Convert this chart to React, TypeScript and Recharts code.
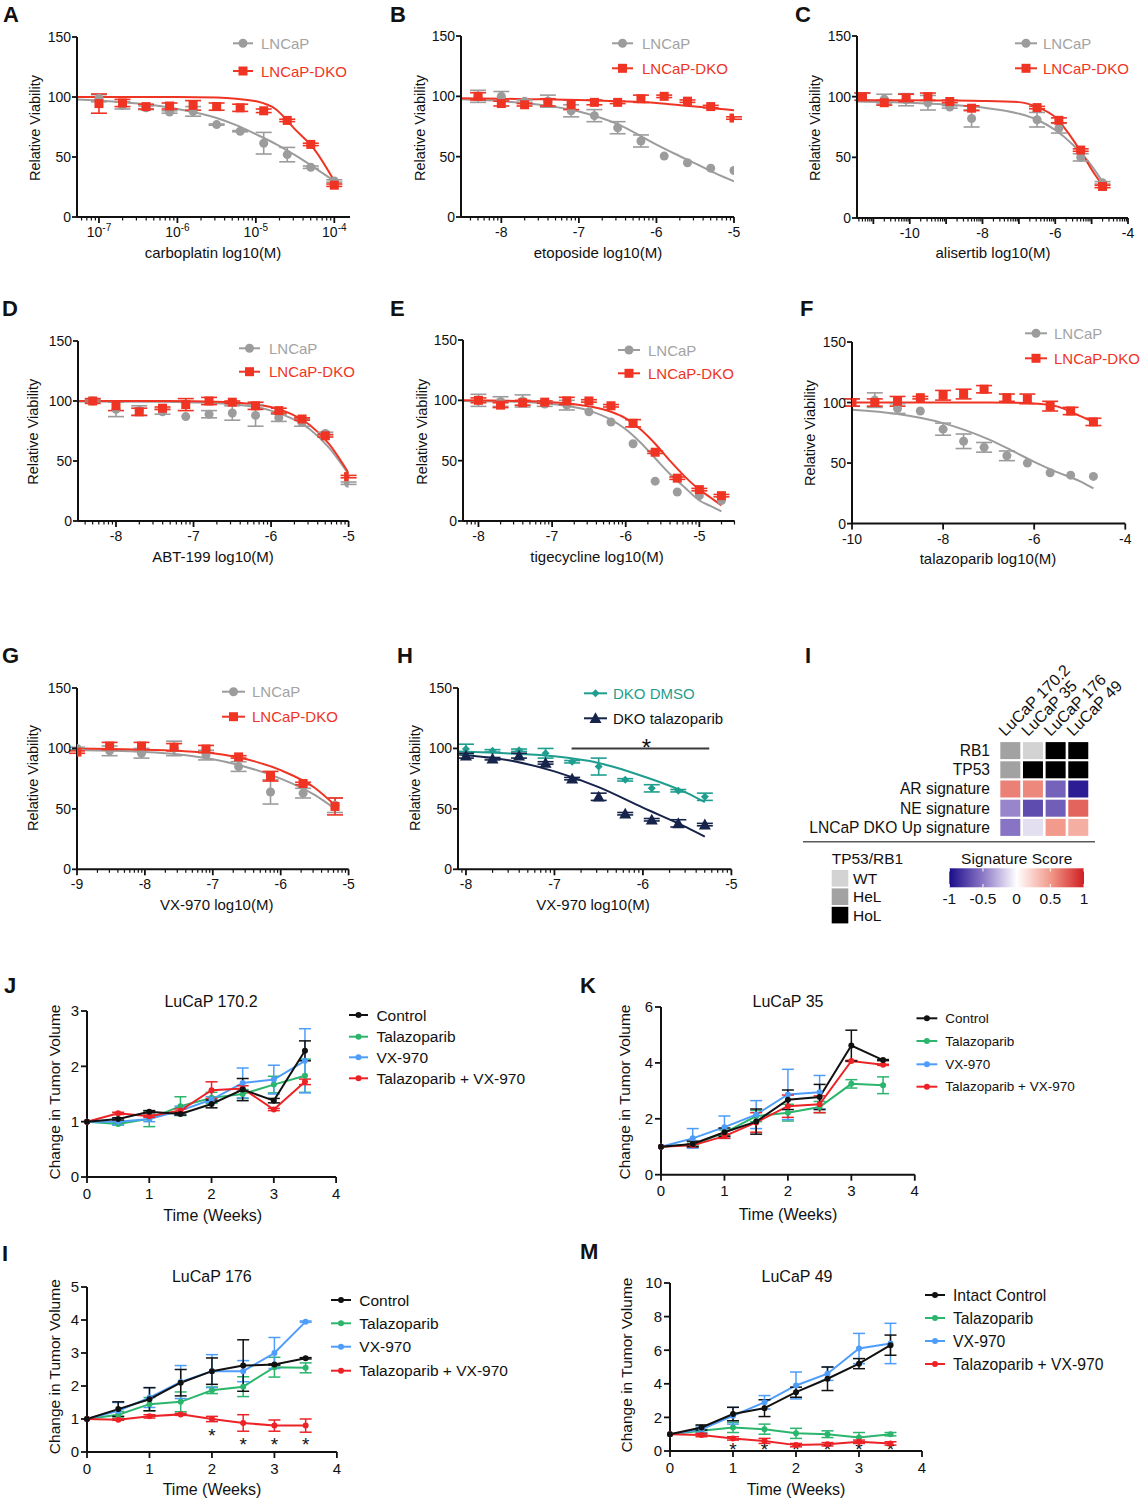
import React from "react"
import { ComposedChart, Line, Scatter, XAxis, YAxis, ErrorBar, ReferenceLine } from "recharts"

const FONT = "Arial, 'Liberation Sans', Helvetica, sans-serif"
const BLACK = "#111111"
const GRAY = "#9c9c9c"
const GRAY_TXT = "#a3a3a3"
const RED = "#ef3424"
const TEAL = "#1f9e8f"
const NAVY = "#16234a"
const GREEN = "#2bb56d"
const BLUE = "#4f9dfa"
const TRED = "#ec2227"

// ---------- dose response data (log10 M) ----------
const aDose = [-7, -6.7, -6.4, -6.1, -5.8, -5.5, -5.2, -4.9, -4.6, -4.3, -4.0]
const aLncap = [99, 93, 91, 87.5, 88, 77, 71.5, 61.5, 52, 41.5, 30]
const aLncapErr = [3, 3, 1.5, 1, 4, 0.5, 0.5, 9, 6, 1, 1]
const aDko = [94.5, 95, 92, 92.5, 93, 92, 91, 88.5, 80.5, 60.5, 26.5]
const aDkoErr = [8, 3, 2, 2.5, 4, 3, 3, 1.5, 1, 1, 1]
const aFitX = [-7.28, -7, -6.5, -6, -5.5, -5.25, -5, -4.75, -4.5, -4.25, -4.0]
const aLncapFit = [98, 97, 94.5, 90, 82.5, 76.5, 69, 61, 51.5, 41, 30]
const aDkoFit = [100, 100, 100, 100, 99.5, 98.5, 96.5, 90, 73, 56, 30]

const bDose = [-8.3, -8.0, -7.7, -7.4, -7.1, -6.8, -6.5, -6.2, -5.9, -5.6, -5.3, -5.0]
const bLncap = [100, 100, 96, 96, 88, 84, 74, 63, 50.5, 45, 40.5, 38.5]
const bLncapErr = [5, 4, 1, 5, 5, 5, 5, 5, 0, 0, 0, 0]
const bDko = [100, 94, 93, 95, 93, 95, 95, 98, 100, 96, 91.5, 82]
const bDkoErr = [3, 2, 1, 3, 4, 2, 1, 3, 1, 1, 1, 1]
const bFitX = [-8.52, -8, -7.5, -7, -6.5, -6, -5.75, -5.5, -5.25, -5.0]
const bLncapFit = [97.5, 96, 93, 87.5, 77, 60, 52, 44.5, 36.5, 29.5]
const bDkoFit = [98.5, 98, 97.5, 97, 96, 94.5, 93, 91.5, 90, 88.5]

const cDose = [-11.3, -10.7, -10.1, -9.5, -8.9, -8.3, -6.5, -5.9, -5.3, -4.7]
const cLncap = [100, 98, 97.5, 95, 91.5, 82, 81, 74, 50, 29]
const cLncapErr = [3, 4, 5, 6, 1, 7, 6, 4, 3, 1]
const cDko = [100, 95, 99, 100, 96, 90.5, 91, 80.5, 56, 26]
const cDkoErr = [3, 2, 3, 3, 1, 2, 1, 2, 1, 1]
const cFitX = [-11.45, -10, -9, -8, -7, -6.5, -6, -5.5, -5.2, -5, -4.7]
const cLncapFit = [96, 95, 93.5, 91, 86, 81, 72.5, 60, 50.5, 43, 30]
const cDkoFit = [97, 97, 96.8, 96.5, 95.5, 91.5, 83, 64, 50, 40, 27]

const dDose = [-8.3, -8.0, -7.7, -7.4, -7.1, -6.8, -6.5, -6.2, -5.9, -5.6, -5.3, -5.0]
const dLncap = [100, 93, 92, 91, 87, 89, 90, 88, 86, 82, 73, 31.5]
const dLncapErr = [1, 6, 4, 2, 0, 3, 6, 9, 3, 3, 1, 1]
const dDko = [100, 96, 91, 94, 97, 100, 99, 96, 92, 85, 71, 37]
const dDkoErr = [2, 4, 3, 1, 5, 3, 1, 3, 2, 1, 1, 1]
const dFitX = [-8.5, -7.5, -7, -6.5, -6.25, -6, -5.75, -5.5, -5.25, -5.0]
const dLncapFit = [99.5, 99.3, 98.8, 97.3, 95.5, 92, 86, 76.5, 61, 39]
const dDkoFit = [100, 100, 99.8, 99, 97.5, 95, 89.5, 80, 64, 40]

const eDose = [-8.0, -7.7, -7.4, -7.1, -6.8, -6.5, -6.2, -5.9, -5.6, -5.3, -5.0, -4.7]
const eLncap = [100, 99, 99.5, 97, 96, 90.5, 82, 64, 33, 24, 21, 17]
const eLncapErr = [5, 4, 5, 2, 4, 0, 0, 0, 0, 0, 0, 0]
const eDko = [100, 96, 98, 98.5, 99.5, 99.5, 95.5, 81, 57, 35.5, 26, 21]
const eDkoErr = [2, 2, 2, 1, 3, 1, 1, 3, 1, 1, 1, 1]
const eFitX = [-8.2, -7.5, -7, -6.5, -6.2, -6, -5.8, -5.6, -5.4, -5.2, -5, -4.85, -4.7]
const eLncapFit = [99.5, 98.8, 97, 91.5, 84, 76, 65, 52, 39, 28, 17, 12.5, 8]
const eDkoFit = [100, 99.5, 98.5, 95, 90.5, 85, 76, 64, 50, 37, 26, 19.5, 13]

const fDose = [-10, -9.5, -9.0, -8.5, -8.0, -7.55, -7.1, -6.6, -6.15, -5.65, -5.2, -4.7]
const fLncap = [100, 102, 95, 93, 78, 68, 63, 56, 50, 42, 40, 39]
const fLncapErr = [3, 6, 4, 0, 5, 6, 4, 4, 0, 0, 0, 0]
const fDko = [100, 100, 101, 104, 106, 107, 111, 104, 103, 97, 93, 84]
const fDkoErr = [3, 3, 4, 1, 4, 4, 3, 3, 4, 4, 3, 3]
const fFitX = [-10, -9, -8, -7.5, -7, -6.5, -6, -5.5, -5, -4.7]
const fLncapFit = [94, 90.5, 83, 77, 69.5, 60.5, 51, 42.5, 35, 29]
const fDkoFit = [100, 100, 100, 100, 100, 99.8, 99.3, 96.8, 89, 84]

const gDose = [-9, -8.52, -8.05, -7.57, -7.1, -6.62, -6.15, -5.67, -5.2]
const gLncap = [100, 98, 96, 100, 94.5, 85, 64, 63, 53]
const gLncapErr = [1, 4, 4, 6, 4, 4, 10, 4, 6]
const gDko = [97, 102, 102, 101, 99.5, 93, 77, 71, 52]
const gDkoErr = [1, 3, 3, 3, 3, 1, 4, 1, 7]
const gFitX = [-9, -8.5, -8, -7.5, -7, -6.5, -6, -5.5, -5.2]
const gLncapFit = [98.5, 98, 97, 95, 91, 84.5, 75, 61.5, 50]
const gDkoFit = [100, 99.5, 99, 98, 96, 91, 82, 67.5, 53]

const hDose = [-8, -7.7, -7.4, -7.1, -6.8, -6.5, -6.2, -5.9, -5.6, -5.3]
const hDmso = [99.5, 98, 98.5, 96, 89, 85, 74, 67, 65, 60]
const hDmsoErr = [4, 1, 1, 4, 1, 7, 1, 3, 1, 3]
const hTala = [94, 91.5, 94, 88, 75, 60, 46, 41, 38, 37]
const hTalaErr = [2, 1, 2, 1, 1, 3, 1, 1, 3, 1]
const hFitX = [-8.09, -7.5, -7, -6.5, -6, -5.5, -5.3]
const hDmsoFit = [97.5, 95.8, 93.5, 88, 77, 63, 55.5]
const hTalaFit = [95, 90, 81, 68, 51, 34.5, 27]
const hSigStar = [{ x: -5.96, y: 105 }]

// ---------- heatmap ----------
const heatSamples = ["LuCaP 170.2", "LuCaP 35", "LuCaP 176", "LuCaP 49"]
const heatRows = ["RB1", "TP53", "AR signature", "NE signature", "LNCaP DKO Up signature"]
const rb1Status = ["HeL", "WT", "HoL", "HoL"]
const tp53Status = ["HeL", "HoL", "HoL", "HoL"]
const arScore = [0.6, 0.57, -0.6, -0.92]
const neScore = [-0.45, -0.7, -0.62, 0.72]
const dkoUpScore = [-0.52, -0.12, 0.5, 0.4]
const statusLabels = ["WT", "HeL", "HoL"]
const STATUS_COLORS: Record<string, string> = { WT: "#d3d3d3", HeL: "#a2a2a2", HoL: "#000000" }
const scoreTicks = [-1, -0.5, 0, 0.5, 1]
const SCORE_STOPS: [number, string][] = [
  [-1, "#1a0c8a"],
  [-0.5, "#8c78c6"],
  [0, "#ffffff"],
  [0.5, "#f29a8b"],
  [1, "#d01f22"],
]

// ---------- tumour volume ----------
const weeks = [0, 0.5, 1, 1.5, 2, 2.5, 3, 3.5]
const jControl = [1, 1.05, 1.18, 1.14, 1.32, 1.58, 1.38, 2.28]
const jControlErr = [0, 0.02, 0.02, 0.02, 0.07, 0.2, 0.04, 0.18]
const jTala = [1, 0.96, 1.05, 1.28, 1.43, 1.5, 1.67, 1.83]
const jTalaErr = [0, 0.02, 0.14, 0.17, 0.1, 0.08, 0.15, 0.3]
const jVx = [1, 1.0, 1.05, 1.2, 1.4, 1.7, 1.76, 2.1]
const jVxErr = [0, 0.06, 0.05, 0.08, 0.05, 0.27, 0.26, 0.58]
const jCombo = [1, 1.15, 1.1, 1.2, 1.57, 1.6, 1.22, 1.72]
const jComboErr = [0, 0.02, 0.02, 0.03, 0.15, 0.05, 0.02, 0.05]

const kControl = [1, 1.1, 1.52, 1.9, 2.68, 2.78, 4.62, 4.1]
const kControlErr = [0, 0.1, 0.15, 0.45, 0.35, 0.45, 0.55, 0.02]
const kTala = [1, 1.08, 1.5, 2.1, 2.22, 2.42, 3.25, 3.2]
const kTalaErr = [0, 0.05, 0.1, 0.2, 0.3, 0.2, 0.15, 0.3]
const kVx = [1, 1.3, 1.7, 2.15, 2.87, 2.95]
const kVxErr = [0, 0.35, 0.4, 0.5, 0.9, 0.6]
const kCombo = [1, 1.05, 1.38, 1.87, 2.45, 2.52, 4.07, 3.93]
const kComboErr = [0, 0.05, 0.08, 0.35, 0.4, 0.3, 0.02, 0.02]

const lControl = [1, 1.3, 1.6, 2.1, 2.45, 2.62, 2.65, 2.84]
const lControlErr = [0, 0.22, 0.35, 0.4, 0.4, 0.78, 0.02, 0.02]
const lTala = [1, 1.13, 1.45, 1.52, 1.87, 1.98, 2.57, 2.55]
const lTalaErr = [0, 0.1, 0.2, 0.3, 0.1, 0.3, 0.3, 0.15]
const lVx = [1, 1.25, 1.65, 2.12, 2.45, 2.45, 3.0, 3.95]
const lVxErr = [0, 0.25, 0.3, 0.5, 0.5, 0.32, 0.47, 0.02]
const lCombo = [1, 0.98, 1.08, 1.14, 1.0, 0.88, 0.8, 0.8]
const lComboErr = [0, 0.02, 0.05, 0.03, 0.08, 0.25, 0.17, 0.2]
const lStarWeeks = [2, 2.5, 3, 3.5]
const lStarY = [0.64, 0.35, 0.35, 0.35]

const mControl = [1, 1.4, 2.2, 2.55, 3.5, 4.3, 5.2, 6.3]
const mControlErr = [0, 0.15, 0.4, 0.5, 0.3, 0.7, 0.3, 0.6]
const mTala = [1, 1.2, 1.4, 1.3, 1.05, 1.0, 0.8, 1.0]
const mTalaErr = [0, 0.2, 0.3, 0.3, 0.3, 0.2, 0.3, 0.1]
const mVx = [1, 1.3, 2.1, 2.9, 3.9, 4.6, 6.1, 6.4]
const mVxErr = [0, 0.2, 0.5, 0.4, 0.8, 0.4, 0.9, 1.2]
const mCombo = [1, 0.95, 0.75, 0.6, 0.35, 0.4, 0.55, 0.45]
const mComboErr = [0, 0.1, 0.1, 0.15, 0.1, 0.1, 0.1, 0.1]
const mStarWeeks = [1, 1.5, 2, 2.5, 3, 3.5]
const mStarY = [0.35, 0.35, 0.35, 0.35, 0.35, 0.35]

const pts = (xs: number[], ys: number[], es?: number[]) =>
  ys.map((y, i) => ({ x: xs[i], y, e: es ? es[i] : 0 }))

const logMinors = (lo: number, hi: number) => {
  const out: number[] = []
  for (let n = Math.floor(lo); n < hi; n++) {
    for (let k = 2; k <= 9; k++) {
      const v = n + Math.log10(k)
      if (v > lo && v < hi) out.push(v)
    }
  }
  return out
}

function scoreColor(v: number) {
  for (let i = 0; i < SCORE_STOPS.length - 1; i++) {
    const [a, ca] = SCORE_STOPS[i]
    const [b, cb] = SCORE_STOPS[i + 1]
    if (v >= a && v <= b) {
      const t = (v - a) / (b - a)
      const p = (c: string, o: number) => parseInt(c.slice(o, o + 2), 16)
      const mix = (o: number) => Math.round(p(ca, o) + (p(cb, o) - p(ca, o)) * t)
      return `rgb(${mix(1)},${mix(3)},${mix(5)})`
    }
  }
  return "#ffffff"
}

// marker shapes
const circleShape = (color: string, r = 4.5) => (p: any) => <circle cx={p.cx} cy={p.cy} r={r} fill={color} />
const squareShape = (color: string, s = 9) => (p: any) => (
  <rect x={p.cx - s / 2} y={p.cy - s / 2} width={s} height={s} fill={color} />
)
const diamondShape = (color: string, s = 4) => (p: any) => (
  <path d={`M${p.cx},${p.cy - s}L${p.cx + s},${p.cy}L${p.cx},${p.cy + s}L${p.cx - s},${p.cy}Z`} fill={color} />
)
const triShape = (color: string, s = 6) => (p: any) => (
  <path d={`M${p.cx},${p.cy - s}L${p.cx + s},${p.cy + s * 0.8}L${p.cx - s},${p.cy + s * 0.8}Z`} fill={color} />
)
const starShape = (size: number) => (p: any) => (
  <text x={p.cx} y={p.cy + size * 0.58} textAnchor="middle" fontSize={size} fontFamily={FONT} fill={BLACK}>
    *
  </text>
)

function LogTick(props: any) {
  const { x, y, payload, majors, labels, sup } = props
  const v = payload.value
  const mi = majors.findIndex((m: number) => Math.abs(m - v) < 1e-9)
  const major = mi >= 0
  const lab = major ? labels[mi] : ""
  return (
    <g>
      <line x1={x} x2={x} y1={y} y2={y + (major ? 6 : 3.5)} stroke={BLACK} strokeWidth={major ? 1.8 : 1.2} />
      {lab !== "" &&
        (sup ? (
          <text x={x} y={y + 20} textAnchor="middle" fontSize={14} fontFamily={FONT} fill={BLACK}>
            <tspan>10</tspan>
            <tspan dy={-6} fontSize={10}>
              {lab}
            </tspan>
          </text>
        ) : (
          <text x={x} y={y + 20} textAnchor="middle" fontSize={14} fontFamily={FONT} fill={BLACK}>
            {lab}
          </text>
        ))}
    </g>
  )
}

interface DoseSeries {
  data: { x: number; y: number; e: number }[]
  fit: { x: number; y: number; e: number }[]
  color: string
  shape: any
}

function DosePanel({ x0, x1, y0, y1, domain, majors, labels, minors, sup, series, children }: any) {
  const L = 50
  const R = 14
  const T = 12
  const B = 34
  const ticks = [...majors, ...minors].sort((a: number, b: number) => a - b)
  return (
    <div style={{ position: "absolute", left: x0 - L, top: y0 - T }}>
      <ComposedChart
        width={x1 - x0 + L + R}
        height={y1 - y0 + T + B}
        margin={{ top: T, right: R, bottom: 0, left: 0 }}
      >
        <XAxis
          type="number"
          dataKey="x"
          domain={domain}
          allowDataOverflow
          ticks={ticks}
          interval={0}
          height={B}
          tickSize={0}
          tickMargin={0}
          tickLine={false}
          axisLine={{ stroke: BLACK, strokeWidth: 2 }}
          tick={(p: any) => <LogTick {...p} majors={majors} labels={labels} sup={sup} />}
        />
        <YAxis
          type="number"
          dataKey="y"
          domain={[0, 150]}
          allowDataOverflow
          ticks={[0, 50, 100, 150]}
          interval={0}
          width={L}
          tickSize={5}
          tickMargin={1}
          axisLine={{ stroke: BLACK, strokeWidth: 2 }}
          tickLine={{ stroke: BLACK, strokeWidth: 1.8 }}
          tick={{ fill: BLACK, fontSize: 14, fontFamily: FONT }}
        />
        {series.map((s: DoseSeries, i: number) => (
          <Line
            key={"fit" + i}
            data={s.fit}
            dataKey="y"
            type="monotone"
            stroke={s.color}
            strokeWidth={2}
            dot={false}
            isAnimationActive={false}
          />
        ))}
        {series.map((s: DoseSeries, i: number) => (
          <Scatter key={"pts" + i} data={s.data} dataKey="y" shape={s.shape} isAnimationActive={false}>
            <ErrorBar dataKey="e" direction="y" width={8} stroke={s.color} strokeWidth={1.6} />
          </Scatter>
        ))}
        {children}
      </ComposedChart>
    </div>
  )
}

function TimePanel({ x0, x1, y0, y1, yMax, yTicks, groups, stars }: any) {
  const L = 50
  const R = 14
  const T = 12
  const B = 36
  return (
    <div style={{ position: "absolute", left: x0 - L, top: y0 - T }}>
      <ComposedChart
        width={x1 - x0 + L + R}
        height={y1 - y0 + T + B}
        margin={{ top: T, right: R, bottom: 0, left: 0 }}
      >
        <XAxis
          type="number"
          dataKey="x"
          domain={[0, 4]}
          ticks={[0, 1, 2, 3, 4]}
          interval={0}
          height={B}
          tickSize={6}
          tickMargin={5}
          axisLine={{ stroke: BLACK, strokeWidth: 2 }}
          tickLine={{ stroke: BLACK, strokeWidth: 1.8 }}
          tick={{ fill: BLACK, fontSize: 15, fontFamily: FONT }}
        />
        <YAxis
          type="number"
          dataKey="y"
          domain={[0, yMax]}
          allowDataOverflow
          ticks={yTicks}
          interval={0}
          width={L}
          tickSize={6}
          tickMargin={2}
          axisLine={{ stroke: BLACK, strokeWidth: 2 }}
          tickLine={{ stroke: BLACK, strokeWidth: 1.8 }}
          tick={{ fill: BLACK, fontSize: 15, fontFamily: FONT }}
        />
        {groups.map((g: any, i: number) => (
          <Line
            key={"g" + i}
            data={g.data}
            dataKey="y"
            stroke={g.color}
            strokeWidth={2}
            dot={{ r: 3, fill: g.color, stroke: g.color, strokeWidth: 0 }}
            isAnimationActive={false}
          >
            <ErrorBar dataKey="e" direction="y" width={6} stroke={g.color} strokeWidth={1.5} />
          </Line>
        ))}
        {stars && <Scatter data={stars} dataKey="y" shape={starShape(19)} isAnimationActive={false} />}
      </ComposedChart>
    </div>
  )
}

const heatCells = [
  ...rb1Status.map((s, i) => ({ x: i, y: 0, fill: STATUS_COLORS[s] })),
  ...tp53Status.map((s, i) => ({ x: i, y: 1, fill: STATUS_COLORS[s] })),
  ...arScore.map((v, i) => ({ x: i, y: 2, fill: scoreColor(v) })),
  ...neScore.map((v, i) => ({ x: i, y: 3, fill: scoreColor(v) })),
  ...dkoUpScore.map((v, i) => ({ x: i, y: 4, fill: scoreColor(v) })),
]

function Heatmap() {
  const x0 = 999.4
  const x1 = 1090
  const y0 = 740.7
  const y1 = 836.7
  const L = 200
  const R = 40
  const H = 100
  return (
    <div style={{ position: "absolute", left: x0 - L, top: y0 - H }}>
      <ComposedChart width={x1 - x0 + L + R} height={y1 - y0 + H + 4} margin={{ top: 0, right: R, bottom: 4, left: 0 }}>
        <XAxis
          type="number"
          dataKey="x"
          orientation="top"
          domain={[-0.5, 3.5]}
          ticks={[0, 1, 2, 3]}
          interval={0}
          height={H}
          axisLine={false}
          tickLine={false}
          tickSize={0}
          tickMargin={0}
          tick={(p: any) => (
            <text
              transform={`translate(${p.x - 5},${p.y - 4}) rotate(-45)`}
              fontSize={16}
              fontFamily={FONT}
              fill={BLACK}
            >
              {heatSamples[p.payload.value]}
            </text>
          )}
        />
        <YAxis
          type="number"
          dataKey="y"
          domain={[-0.5, 4.5]}
          reversed
          ticks={[0, 1, 2, 3, 4]}
          interval={0}
          width={L}
          axisLine={false}
          tickLine={false}
          tickSize={0}
          tickMargin={9}
          tick={(p: any) => (
            <text x={p.x} y={p.y} textAnchor="end" dominantBaseline="central" fontSize={15.6} fontFamily={FONT} fill={BLACK}>
              {heatRows[p.payload.value]}
            </text>
          )}
        />
        <Scatter
          data={heatCells}
          dataKey="y"
          isAnimationActive={false}
          shape={(p: any) => <rect x={p.cx - 10} y={p.cy - 8.5} width={20} height={17} fill={p.payload.fill} />}
        />
      </ComposedChart>
    </div>
  )
}

// ---------- overlay text helpers ----------
function T({ x, y, children, size = 14, color = BLACK, anchor = "middle", rotate = 0, weight = 400 }: any) {
  return (
    <text
      x={x}
      y={y}
      textAnchor={anchor}
      dominantBaseline="central"
      fontSize={size}
      fill={color}
      fontWeight={weight}
      fontFamily={FONT}
      transform={rotate ? `rotate(${rotate},${x},${y})` : undefined}
    >
      {children}
    </text>
  )
}

function LegendRow({ lx1, lx2, tx, y, color, marker, label, textColor, size = 15 }: any) {
  const mx = (lx1 + lx2) / 2
  return (
    <g>
      <line x1={lx1} x2={lx2} y1={y} y2={y} stroke={color} strokeWidth={2} />
      {marker({ cx: mx, cy: y })}
      <T x={tx} y={y} anchor="start" size={size} color={textColor}>
        {label}
      </T>
    </g>
  )
}

const doseLegends = [
  { lx1: 233, lx2: 253, tx: 261, y1: 43.3, y2: 71 },
  { lx1: 612, lx2: 633, tx: 642, y1: 43.3, y2: 68.3 },
  { lx1: 1015, lx2: 1037, tx: 1043, y1: 43.3, y2: 68.3 },
  { lx1: 239, lx2: 260, tx: 269, y1: 348.3, y2: 371.7 },
  { lx1: 618, lx2: 640, tx: 648, y1: 350, y2: 373.3 },
  { lx1: 1025, lx2: 1047, tx: 1054, y1: 333.3, y2: 358.3 },
  { lx1: 222, lx2: 245, tx: 252, y1: 691.7, y2: 716.7 },
]

const doseTitles = [
  { yx: 35, yy: 128, xx: 213, xy: 252.5, label: "carboplatin log10(M)" },
  { yx: 420, yy: 128, xx: 598, xy: 252.5, label: "etoposide log10(M)" },
  { yx: 815, yy: 128, xx: 993, xy: 252.5, label: "alisertib log10(M)" },
  { yx: 33.3, yy: 431.7, xx: 213, xy: 556.7, label: "ABT-199 log10(M)" },
  { yx: 421.7, yy: 431.7, xx: 597, xy: 556.7, label: "tigecycline log10(M)" },
  { yx: 810, yy: 433, xx: 988, xy: 558, label: "talazoparib log10(M)" },
  { yx: 33.3, yy: 778, xx: 216.7, xy: 904, label: "VX-970 log10(M)" },
  { yx: 415, yy: 778, xx: 593, xy: 904, label: "VX-970 log10(M)" },
]

const panelLetters = [
  { t: "A", x: 3, y: 14 },
  { t: "B", x: 390, y: 14 },
  { t: "C", x: 795, y: 14 },
  { t: "D", x: 2, y: 308 },
  { t: "E", x: 390, y: 308 },
  { t: "F", x: 800, y: 308 },
  { t: "G", x: 2, y: 655 },
  { t: "H", x: 397, y: 655 },
  { t: "I", x: 805, y: 655 },
  { t: "J", x: 4, y: 985 },
  { t: "K", x: 580, y: 985 },
  { t: "I", x: 2, y: 1253 },
  { t: "M", x: 580, y: 1251 },
]

const timeGroupsLabels = ["Control", "Talazoparib", "VX-970", "Talazoparib + VX-970"]
const timeColors = [BLACK, GREEN, BLUE, TRED]

const timeLayouts = [
  { lx1: 349, lx2: 368, tx: 376.4, rows: [1015, 1036.7, 1057.3, 1078.3], size: 15.5, title: "LuCaP 170.2", tx0: 211, ty0: 1001, yx: 54.5, yy: 1092, xx: 212.7, xy: 1215, first: "Control" },
  { lx1: 916.5, lx2: 937.3, tx: 945.3, rows: [1018.3, 1041, 1064.3, 1086.7], size: 13.5, title: "LuCaP 35", tx0: 788, ty0: 1001, yx: 624.5, yy: 1092, xx: 788, xy: 1214, first: "Control" },
  { lx1: 331, lx2: 351, tx: 359.3, rows: [1300, 1323.3, 1346.7, 1370.7], size: 15.5, title: "LuCaP 176", tx0: 211.8, ty0: 1276, yx: 54.5, yy: 1366.7, xx: 212, xy: 1489, first: "Control" },
  { lx1: 925, lx2: 945, tx: 953, rows: [1295, 1318, 1341, 1364], size: 15.7, title: "LuCaP 49", tx0: 797, ty0: 1276, yx: 626, yy: 1365, xx: 796, xy: 1489, first: "Intact Control" },
]

function Overlay() {
  const gx0 = 949.3
  const gw = 134.7
  return (
    <svg
      width={1140}
      height={1500}
      style={{ position: "absolute", left: 0, top: 0, pointerEvents: "none" }}
    >
      <defs>
        <linearGradient id="sigScore" x1="0" x2="1" y1="0" y2="0">
          {SCORE_STOPS.map(([v, c]) => (
            <stop key={v} offset={`${((v + 1) / 2) * 100}%`} stopColor={c} />
          ))}
        </linearGradient>
      </defs>

      {panelLetters.map((p, i) => (
        <T key={i} x={p.x} y={p.y} anchor="start" size={22} weight={700}>
          {p.t}
        </T>
      ))}

      {doseTitles.map((d, i) => (
        <g key={i}>
          <T x={d.yx} y={d.yy} rotate={-90} size={14.5}>
            Relative Viability
          </T>
          <T x={d.xx} y={d.xy} size={15}>
            {d.label}
          </T>
        </g>
      ))}

      {doseLegends.map((l, i) => (
        <g key={i}>
          <LegendRow lx1={l.lx1} lx2={l.lx2} tx={l.tx} y={l.y1} color={GRAY} marker={circleShape(GRAY)} label="LNCaP" textColor={GRAY_TXT} />
          <LegendRow lx1={l.lx1} lx2={l.lx2} tx={l.tx} y={l.y2} color={RED} marker={squareShape(RED)} label="LNCaP-DKO" textColor={RED} />
        </g>
      ))}
      <LegendRow lx1={584} lx2={607} tx={613} y={693.3} color={TEAL} marker={diamondShape(TEAL)} label="DKO DMSO" textColor={TEAL} />
      <LegendRow lx1={584} lx2={607} tx={613} y={718.3} color={NAVY} marker={triShape(NAVY)} label="DKO talazoparib" textColor={BLACK} />

      {/* heatmap legend */}
      <line x1={803} x2={1095} y1={841.7} y2={841.7} stroke="#5a5a5a" strokeWidth={1.5} />
      <T x={831.7} y={858} anchor="start" size={15.5}>
        TP53/RB1
      </T>
      {statusLabels.map((s, i) => (
        <g key={s}>
          <rect x={831.7} y={870 + i * 18.4} width={16.6} height={16.6} fill={STATUS_COLORS[s]} />
          <T x={853} y={878.3 + i * 18.4} anchor="start" size={15.5}>
            {s}
          </T>
        </g>
      ))}
      <T x={1016.7} y={858} size={15.5}>
        Signature Score
      </T>
      <rect x={gx0} y={868.3} width={gw} height={19} fill="url(#sigScore)" />
      {scoreTicks.map((v) => {
        const x = gx0 + ((v + 1) / 2) * gw
        return (
          <g key={v}>
            <line x1={x} x2={x} y1={868.3} y2={871.5} stroke="#fff" strokeWidth={1} />
            <line x1={x} x2={x} y1={884} y2={887.3} stroke="#fff" strokeWidth={1} />
            <T x={x} y={898.5} size={15.5}>
              {String(v)}
            </T>
          </g>
        )
      })}

      {timeLayouts.map((t, i) => (
        <g key={i}>
          <T x={t.tx0} y={t.ty0} size={16}>
            {t.title}
          </T>
          <T x={t.yx} y={t.yy} rotate={-90} size={15.5}>
            Change in Tumor Volume
          </T>
          <T x={t.xx} y={t.xy} size={16}>
            Time (Weeks)
          </T>
          {timeGroupsLabels.map((lab, k) => (
            <LegendRow
              key={k}
              lx1={t.lx1}
              lx2={t.lx2}
              tx={t.tx}
              y={t.rows[k]}
              color={timeColors[k]}
              marker={circleShape(timeColors[k], 3)}
              label={k === 0 ? t.first : lab}
              textColor={BLACK}
              size={t.size}
            />
          ))}
        </g>
      ))}
    </svg>
  )
}

const grayRed = (d: number[], l: number[], le: number[], k: number[], ke: number[], fx: number[], lf: number[], kf: number[]) => [
  { data: pts(d, l, le), fit: pts(fx, lf), color: GRAY, shape: circleShape(GRAY) },
  { data: pts(d, k, ke), fit: pts(fx, kf), color: RED, shape: squareShape(RED) },
]

const timeGroups = (c: number[], ce: number[], t: number[], te: number[], v: number[], ve: number[], m: number[], me: number[]) => [
  { data: pts(weeks, t, te), color: GREEN },
  { data: pts(weeks, v, ve), color: BLUE },
  { data: pts(weeks, m, me), color: TRED },
  { data: pts(weeks, c, ce), color: BLACK },
]

export default function App() {
  return (
    <div
      style={{
        position: "absolute",
        left: 0,
        top: 0,
        width: 1140,
        height: 1500,
        background: "#fff",
        fontFamily: FONT,
        overflow: "hidden",
      }}
    >
      <DosePanel
        x0={77} x1={350} y0={37} y1={217}
        domain={[-7.28, -3.8]}
        majors={[-7, -6, -5, -4]}
        labels={["-7", "-6", "-5", "-4"]}
        minors={logMinors(-7.28, -3.8)}
        sup
        series={grayRed(aDose, aLncap, aLncapErr, aDko, aDkoErr, aFitX, aLncapFit, aDkoFit)}
      />
      <DosePanel
        x0={461} x1={734} y0={36} y1={217}
        domain={[-8.52, -5]}
        majors={[-8, -7, -6, -5]}
        labels={["-8", "-7", "-6", "-5"]}
        minors={logMinors(-8.52, -5)}
        series={grayRed(bDose, bLncap, bLncapErr, bDko, bDkoErr, bFitX, bLncapFit, bDkoFit)}
      />
      <DosePanel
        x0={857} x1={1128} y0={36} y1={218}
        domain={[-11.45, -4]}
        majors={[-11, -10, -9, -8, -7, -6, -5, -4]}
        labels={["", "-10", "", "-8", "", "-6", "", "-4"]}
        minors={logMinors(-11.45, -4)}
        series={grayRed(cDose, cLncap, cLncapErr, cDko, cDkoErr, cFitX, cLncapFit, cDkoFit)}
      />
      <DosePanel
        x0={77.7} x1={348.3} y0={340.7} y1={520.7}
        domain={[-8.49, -5]}
        majors={[-8, -7, -6, -5]}
        labels={["-8", "-7", "-6", "-5"]}
        minors={logMinors(-8.49, -5)}
        series={grayRed(dDose, dLncap, dLncapErr, dDko, dDkoErr, dFitX, dLncapFit, dDkoFit)}
      />
      <DosePanel
        x0={463.3} x1={735} y0={340} y1={521}
        domain={[-8.21, -4.52]}
        majors={[-8, -7, -6, -5]}
        labels={["-8", "-7", "-6", "-5"]}
        minors={logMinors(-8.21, -4.52)}
        series={grayRed(eDose, eLncap, eLncapErr, eDko, eDkoErr, eFitX, eLncapFit, eDkoFit)}
      />
      <DosePanel
        x0={851.7} x1={1125} y0={341.7} y1={523.3}
        domain={[-10, -4]}
        majors={[-10, -8, -6, -4]}
        labels={["-10", "-8", "-6", "-4"]}
        minors={[]}
        series={grayRed(fDose, fLncap, fLncapErr, fDko, fDkoErr, fFitX, fLncapFit, fDkoFit)}
      />
      <DosePanel
        x0={76.7} x1={348.3} y0={687.7} y1={869}
        domain={[-9, -5]}
        majors={[-9, -8, -7, -6, -5]}
        labels={["-9", "-8", "-7", "-6", "-5"]}
        minors={logMinors(-9, -5)}
        series={grayRed(gDose, gLncap, gLncapErr, gDko, gDkoErr, gFitX, gLncapFit, gDkoFit)}
      />
      <DosePanel
        x0={458.3} x1={731.7} y0={687.7} y1={869}
        domain={[-8.09, -5]}
        majors={[-8, -7, -6, -5]}
        labels={["-8", "-7", "-6", "-5"]}
        minors={logMinors(-8.09, -5)}
        series={[
          { data: pts(hDose, hDmso, hDmsoErr), fit: pts(hFitX, hDmsoFit), color: TEAL, shape: diamondShape(TEAL) },
          { data: pts(hDose, hTala, hTalaErr), fit: pts(hFitX, hTalaFit), color: NAVY, shape: triShape(NAVY) },
        ]}
      >
        <ReferenceLine
          segment={[{ x: -6.806, y: 100 }, { x: -5.25, y: 100 }]}
          stroke="#3a3a3a"
          strokeWidth={2}
          ifOverflow="visible"
        />
        <Scatter data={hSigStar} dataKey="y" shape={starShape(24)} isAnimationActive={false} />
      </DosePanel>

      <Heatmap />

      <TimePanel
        x0={87.3} x1={336.4} y0={1010.7} y1={1176.7}
        yMax={3} yTicks={[0, 1, 2, 3]}
        groups={timeGroups(jControl, jControlErr, jTala, jTalaErr, jVx, jVxErr, jCombo, jComboErr)}
      />
      <TimePanel
        x0={660.9} x1={914.7} y0={1007.3} y1={1175}
        yMax={6} yTicks={[0, 2, 4, 6]}
        groups={timeGroups(kControl, kControlErr, kTala, kTalaErr, kVx, kVxErr, kCombo, kComboErr)}
      />
      <TimePanel
        x0={86.5} x1={336.4} y0={1286.7} y1={1451.7}
        yMax={5} yTicks={[0, 1, 2, 3, 4, 5]}
        groups={timeGroups(lControl, lControlErr, lTala, lTalaErr, lVx, lVxErr, lCombo, lComboErr)}
        stars={pts(lStarWeeks, lStarY)}
      />
      <TimePanel
        x0={670} x1={922} y0={1283} y1={1451}
        yMax={10} yTicks={[0, 2, 4, 6, 8, 10]}
        groups={timeGroups(mControl, mControlErr, mTala, mTalaErr, mVx, mVxErr, mCombo, mComboErr)}
        stars={pts(mStarWeeks, mStarY)}
      />

      <Overlay />
    </div>
  )
}
